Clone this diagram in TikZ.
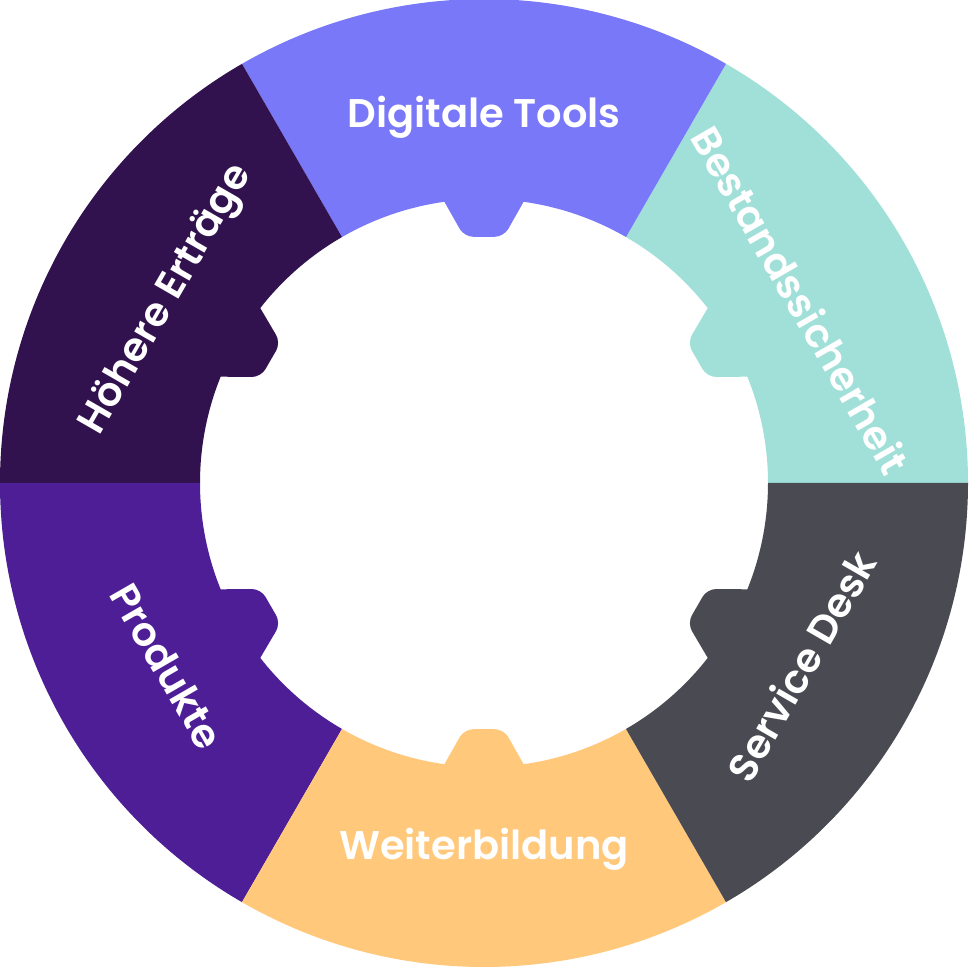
\documentclass[tikz,border=0pt]{standalone}
\usepackage{fontspec}
\setmainfont{Poppins}[BoldFont={Poppins SemiBold}]
\definecolor{tools}{HTML}{7878F8}
\definecolor{bestand}{HTML}{A0E0D8}
\definecolor{service}{HTML}{4A4A53}
\definecolor{weiter}{HTML}{FFC87A}
\definecolor{produkte}{HTML}{4E1E96}
\definecolor{ertrag}{HTML}{31124F}
\tikzset{
  seglabel/.style = {text=white, font=\fontsize{40}{40}\selectfont\bfseries, inner sep=0pt},
}
\begin{document}
\begin{tikzpicture}[x=1pt, y=1pt]
	\useasboundingbox (0,0) rectangle (980,967);
	\begin{scope}[shift={(484,484)}]
	% segments of the ring: start angle / colour / text / text rotation
	\foreach \a/\c/\t/\r in {0/bestand/Bestandssicherheit/-60, 60/tools/Digitale Tools/0, 120/ertrag/Höhere Erträge/60, 180/produkte/Produkte/-60, 240/weiter/Weiterbildung/0, 300/service/Service Desk/60} {
		\pgfmathsetmacro{\m}{\a+30}
		\fill [\c] (\a:484) arc [start angle=\a, end angle=\a+60, radius=484] -- (\a+60:284) arc [start angle=\a+60, end angle=\a, radius=284] -- cycle;
		\fill [\c, rounded corners=9] (\m-9:297) -- (\m-4.6:247) -- (\m+4.6:247) -- (\m+9:297) -- cycle;
		\node [seglabel, rotate=\r] (lab\a) at (\m:366) {\t};
	}
	\end{scope}
\end{tikzpicture}
\end{document}
